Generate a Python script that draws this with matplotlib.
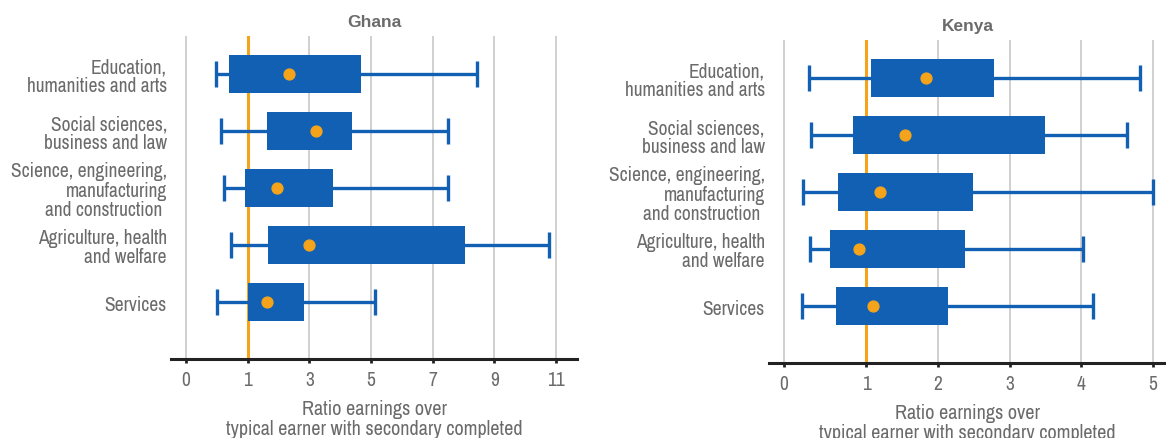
import numpy as np
import matplotlib
matplotlib.use('Agg')
import matplotlib.pyplot as plt
from matplotlib import font_manager

# look for a narrow face, otherwise use Roboto a bit smaller
names = sorted({f.name for f in font_manager.fontManager.ttflist})
narrow = [n for n in names if 'Condensed' in n or 'Narrow' in n]
if narrow:
    main_font = narrow[0]
    fs = 14
else:
    main_font = 'Roboto'
    fs = 12
plt.rcParams['font.family'] = [main_font, 'DejaVu Sans']

categories = ['Education,\nhumanities and arts',
              'Social sciences,\nbusiness and law',
              'Science, engineering,\nmanufacturing\nand construction ',
              'Agriculture, health\nand welfare',
              'Services']

# Ghana: whisker low, box left, box right, whisker high, mean dot
gh_low = [0.49, 0.56, 0.62, 0.73, 0.51]
gh_q1 = [0.69, 1.62, 0.95, 1.65, 1.02]
gh_q3 = [4.66, 4.37, 3.78, 8.06, 2.83]
gh_high = [8.43, 7.49, 7.49, 10.78, 5.12]
gh_mean = [2.34, 3.23, 1.94, 2.99, 1.61]
gh_ticks = [0, 1, 3, 5, 7, 9, 11]

# Kenya
ke_low = [0.30, 0.33, 0.23, 0.32, 0.22]
ke_q1 = [1.07, 0.84, 0.66, 0.56, 0.64]
ke_q3 = [2.79, 3.50, 2.49, 2.38, 2.14]
ke_high = [4.82, 4.63, 5.00, 4.02, 4.16]
ke_mean = [1.84, 1.54, 1.19, 0.91, 1.10]
ke_ticks = [0, 1, 2, 3, 4, 5]

blue = '#1160b4'
orange = '#f5a31a'
grey_txt = '#6b6b6b'


def gh_fwd(x):
    x = np.asarray(x, dtype=float)
    return np.where(x <= 1, x, 1 + (x - 1) / 2)


def gh_inv(y):
    y = np.asarray(y, dtype=float)
    return np.where(y <= 1, y, 1 + 2 * (y - 1))


K = 1.143


def ke_fwd(x):
    x = np.asarray(x, dtype=float)
    return np.where(x <= 1, K * x, K + (x - 1))


def ke_inv(y):
    y = np.asarray(y, dtype=float)
    return np.where(y <= K, y / K, y - K + 1)


fig = plt.figure(figsize=(11.66, 4.39), dpi=100)
ax1 = fig.add_axes([0.1467, 0.180, 0.3482, 0.7358])
ax2 = fig.add_axes([0.6595, 0.1708, 0.3405, 0.7358])


def panel(ax, title, low, q1, q3, high, mean, ticks, fwd, inv, xlim):
    ax.set_xscale('function', functions=(fwd, inv))
    y = np.arange(len(categories))
    ax.hlines(y, low, high, color=blue, lw=2.4, zorder=3)
    ax.vlines(low, y - 0.23, y + 0.23, color=blue, lw=2.4, zorder=3)
    ax.vlines(high, y - 0.23, y + 0.23, color=blue, lw=2.4, zorder=3)
    ax.barh(y, np.array(q3) - np.array(q1), left=q1, height=0.66,
            color=blue, zorder=4)
    ax.plot(mean, y, 'o', color=orange, ms=7.8, zorder=5)
    ax.axvline(1, color=orange, lw=2.2, zorder=2)
    ax.set_xlim(*xlim)
    ax.set_ylim(5.0, -0.67)
    ax.set_xticks(ticks)
    ax.set_xticklabels([str(t) for t in ticks])
    ax.set_yticks(y)
    ax.set_yticklabels(categories, linespacing=1.02)
    ax.tick_params(axis='y', length=0, pad=3, labelsize=fs,
                   labelcolor=grey_txt)
    ax.tick_params(axis='x', length=3, width=2, color='#222222', pad=5,
                   labelsize=fs, labelcolor=grey_txt)
    ax.grid(axis='x', color='#c8c8c8', lw=1.2, zorder=0)
    ax.set_axisbelow(True)
    for s in ['top', 'right', 'left']:
        ax.spines[s].set_visible(False)
    ax.spines['bottom'].set_linewidth(2.2)
    ax.spines['bottom'].set_color('#222222')
    ax.set_xlabel('Ratio earnings over\ntypical earner with secondary completed',
                  fontsize=fs + 0.5, color=grey_txt, labelpad=7, linespacing=1.05)
    ax.text(0.5, 1.046, title, transform=ax.transAxes, ha='center',
            va='center', fontsize=12.5, fontweight='bold', color='#6b6b6b',
            family=['Liberation Sans', 'DejaVu Sans'])


panel(ax1, 'Ghana', gh_low, gh_q1, gh_q3, gh_high, gh_mean, gh_ticks,
      gh_fwd, gh_inv, (-0.243, 11.68))
panel(ax2, 'Kenya', ke_low, ke_q1, ke_q3, ke_high, ke_mean, ke_ticks,
      ke_fwd, ke_inv, (-0.183, 5.18))

fig.savefig('out.png', dpi=100)
